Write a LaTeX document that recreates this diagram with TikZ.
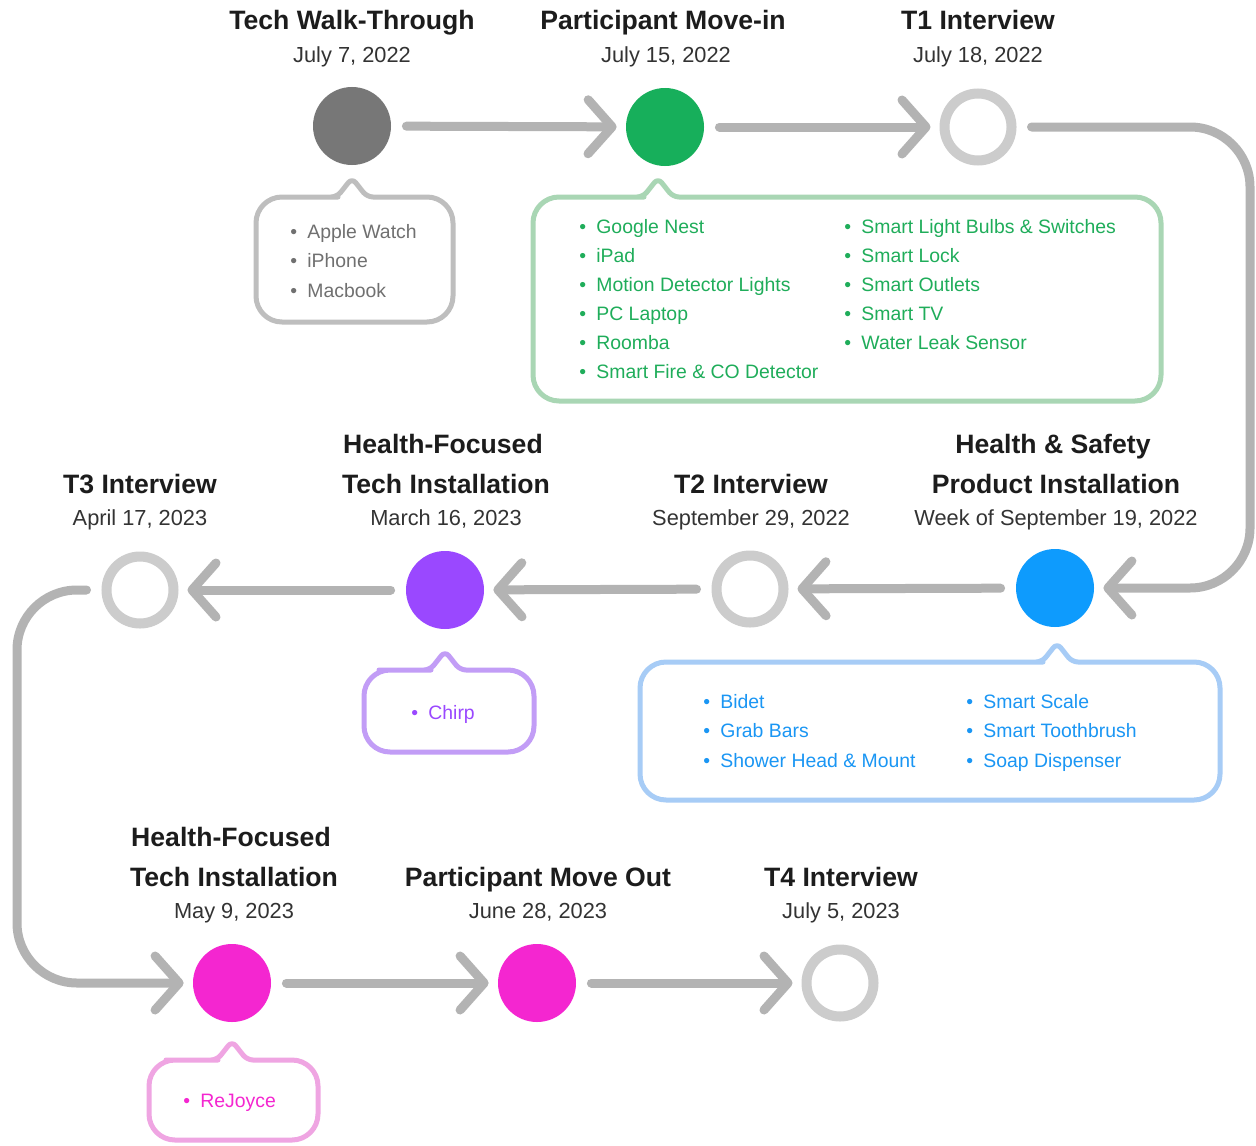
\documentclass[tikz,border=0pt]{standalone}
\usepackage{fontspec}
\setmainfont{Liberation Sans}
\usetikzlibrary{arrows.meta}
\definecolor{connc}{HTML}{B3B3B3}
\definecolor{ringc}{HTML}{CCCCCC}
\definecolor{darkn}{HTML}{777777}
\definecolor{greenn}{HTML}{17AF5B}
\definecolor{greent}{HTML}{1FAD5A}
\definecolor{greens}{HTML}{A9D6B4}
\definecolor{bluen}{HTML}{0E9BFD}
\definecolor{bluet}{HTML}{1A96F4}
\definecolor{blues}{HTML}{A7CCF6}
\definecolor{purpn}{HTML}{9A48FF}
\definecolor{purps}{HTML}{C29DF6}
\definecolor{pinkn}{HTML}{F426D0}
\definecolor{pinks}{HTML}{EFA5E2}
\definecolor{grayt}{HTML}{707070}
\definecolor{grays}{HTML}{BEBEBE}
\definecolor{titlec}{HTML}{1C1C1C}
\definecolor{datec}{HTML}{333333}
\newcommand\itm[1]{\makebox[8.5pt][l]{\textbullet}#1}
\newcommand\mycallout[6]{%
  \draw[#1, line width=2.5pt, line join=round, line cap=round]
    (#6+40,#3) [rounded corners=13pt] -- (#4,#3) -- (#4,#5) -- (#2,#5) -- (#2,#3) -- (#6-40,#3)
    [rounded corners=3pt] -- (#6-15,#3) -- (#6,#3-19) -- (#6+15,#3) [sharp corners] -- (#6+41,#3);}
\tikzset{
  title/.style={font=\fontsize{13.3}{16}\selectfont\bfseries, text=titlec, anchor=base},
  date/.style={font=\fontsize{10.9}{13}\selectfont, text=datec, anchor=base},
  item/.style={font=\fontsize{9.7}{12}\selectfont, anchor=base west, inner sep=0pt},
  dot/.style={circle, inner sep=0pt, minimum size=39pt, fill=#1},
  ring/.style={circle, inner sep=0pt, minimum size=33.5pt, draw=ringc, line width=5pt, fill=white},
  conn/.style={draw=connc, line width=4.5pt, line cap=round, line join=round,
    -{Straight Barb[length=12pt 0, width=27pt 0, round]}, shorten <=7.5pt, shorten >=4.5pt}
}
\begin{document}
\begin{tikzpicture}[x=0.5pt,y=-0.5pt]
\useasboundingbox (0,0) rectangle (1256,1145);
\fill[white] (0,0) rectangle (1256,1145);

% nodes
\node[dot=darkn] (a) at (352,126) {};
\node[dot=greenn] (b) at (665,127) {};
\node[ring] (c) at (978,127) {};
\node[dot=bluen] (d) at (1055,588) {};
\node[ring] (e) at (750,589) {};
\node[dot=purpn] (f) at (445,590) {};
\node[ring] (g) at (140,590) {};
\node[dot=pinkn] (h) at (232,983) {};
\node[dot=pinkn] (i) at (537,983) {};
\node[ring] (j) at (840,983) {};

\coordinate (r1) at (1250,127);
\coordinate (l1) at (17,590);

% connectors
\draw[conn] (a) -- (b);
\draw[conn] (b) -- (c);
\draw[conn, rounded corners=30pt] (c) -- (r1) |- (d);
\draw[conn] (d) -- (e);
\draw[conn] (e) -- (f);
\draw[conn] (f) -- (g);
\draw[conn, rounded corners=30pt] (g) -- (l1) |- (h);
\draw[conn] (h) -- (i);
\draw[conn] (i) -- (j);

% titles row 1
\node[title] (ta) at (352,30) {Tech Walk-Through};
\node[date] (da) at (352,62) {July 7, 2022};
\node[title] (tb) at (663,30) {Participant Move-in};
\node[date] (db) at (666,62) {July 15, 2022};
\node[title] (tc) at (978,30) {T1 Interview};
\node[date] (dc) at (978,62) {July 18, 2022};

% titles row 2
\node[title] (tg) at (140,493) {T3 Interview};
\node[date] (dg) at (140,525) {April 17, 2023};
\node[title] (tf1) at (443,453) {Health-Focused};
\node[title] (tf2) at (446,493) {Tech Installation};
\node[date] (df) at (446,525) {March 16, 2023};
\node[title] (te) at (751,493) {T2 Interview};
\node[date] (de) at (751,525) {September 29, 2022};
\node[title] (td1) at (1053,453) {Health \& Safety};
\node[title] (td2) at (1056,493) {Product Installation};
\node[date] (dd) at (1056,525) {Week of September 19, 2022};

% titles row 3
\node[title] (th1) at (231,846) {Health-Focused};
\node[title] (th2) at (234,886) {Tech Installation};
\node[date] (dh) at (234,918) {May 9, 2023};
\node[title] (ti) at (538,886) {Participant Move Out};
\node[date] (di) at (538,918) {June 28, 2023};
\node[title] (tj) at (841,886) {T4 Interview};
\node[date] (dj) at (841,918) {July 5, 2023};

% callouts
\mycallout{grays}{256}{197}{453}{322}{352}
\mycallout{greens}{533}{197}{1161}{401}{658}
\mycallout{purps}{364}{670}{534}{752}{445}
\mycallout{blues}{640}{662}{1220}{800}{1057}
\mycallout{pinks}{149}{1060}{318}{1140}{232}

% items
\foreach \t [count=\k] in {Apple Watch, iPhone, Macbook}
  \node[item, text=grayt] (ga\k) at (290,{238+(\k-1)*29.5}) {\itm{\t}};
\foreach \t [count=\k] in {Google Nest, iPad, Motion Detector Lights, PC Laptop, Roomba, Smart Fire \& CO Detector}
  \node[item, text=greent] (gb\k) at (579,{233+(\k-1)*29.1}) {\itm{\t}};
\foreach \t [count=\k] in {Smart Light Bulbs \& Switches, Smart Lock, Smart Outlets, Smart TV, Water Leak Sensor}
  \node[item, text=greent] (gc\k) at (844,{233+(\k-1)*29.1}) {\itm{\t}};
\node[item, text=purpn] (pf) at (411,719) {\itm{Chirp}};
\foreach \t [count=\k] in {Bidet, Grab Bars, Shower Head \& Mount}
  \node[item, text=bluet] (bd\k) at (703,{708+(\k-1)*29.5}) {\itm{\t}};
\foreach \t [count=\k] in {Smart Scale, Smart Toothbrush, Soap Dispenser}
  \node[item, text=bluet] (be\k) at (966,{708+(\k-1)*29.5}) {\itm{\t}};
\node[item, text=pinkn] (ph) at (183,1107) {\itm{ReJoyce}};
\end{tikzpicture}
\end{document}
